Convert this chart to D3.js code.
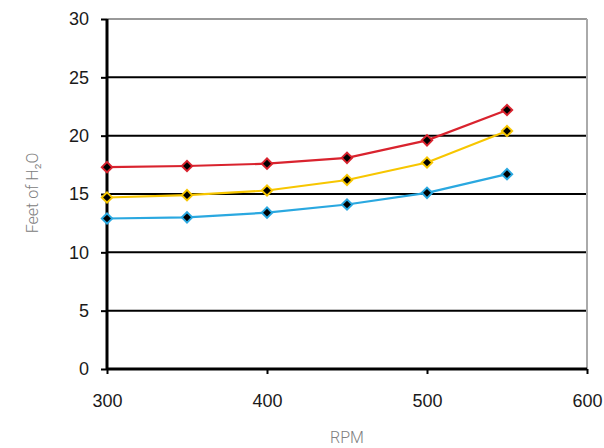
<!DOCTYPE html>
<html><head><meta charset="utf-8">
<script src="https://cdn.jsdelivr.net/npm/d3@7"></script>
<style>body{margin:0;background:#fff;}svg{display:block;font-family:"Liberation Sans",Arial,sans-serif;}</style>
</head><body><svg id="c" width="604" height="448"></svg>
<script>
const rpm = [300, 350, 400, 450, 500, 550];
const redSeries = [17.3, 17.4, 17.6, 18.1, 19.6, 22.2];
const yellowSeries = [14.7, 14.9, 15.3, 16.2, 17.7, 20.4];
const blueSeries = [12.9, 13.0, 13.4, 14.1, 15.1, 16.7];
const xTicks = [300, 400, 500, 600];
const yTicks = [0, 5, 10, 15, 20, 25, 30];

const series = [
  {values: redSeries, color: "#d9232e"},
  {values: yellowSeries, color: "#f7c600"},
  {values: blueSeries, color: "#2aa8e0"}
];

const svg = d3.select("#c");
const L = 107, R = 587, T = 19, B = 369;
const x = d3.scaleLinear().domain([300, 600]).range([L, R]);
const y = d3.scaleLinear().domain([0, 30]).range([B, T]);

svg.append("g").selectAll("line").data(yTicks.filter(d => d > 0 && d < 30)).join("line")
  .attr("x1", L).attr("x2", R).attr("y1", d => y(d)).attr("y2", d => y(d))
  .attr("stroke", "#000").attr("stroke-width", 2);
svg.append("line").attr("x1", L).attr("x2", R).attr("y1", y(30)).attr("y2", y(30)).attr("stroke", "#999").attr("stroke-width", 2);
svg.append("line").attr("x1", R).attr("x2", R).attr("y1", T).attr("y2", B).attr("stroke", "#aaa").attr("stroke-width", 2);

const yAxis = svg.append("g").attr("transform", `translate(${L},0)`)
  .call(d3.axisLeft(y).tickValues(yTicks).tickSize(6).tickPadding(12));
const xAxis = svg.append("g").attr("transform", `translate(0,${B})`)
  .call(d3.axisBottom(x).tickValues(xTicks).tickSize(5).tickPadding(20));
[yAxis, xAxis].forEach(a => {
  a.select(".domain").attr("stroke", "#000").attr("stroke-width", 3);
  a.selectAll(".tick line").attr("stroke", "#000").attr("stroke-width", 2);
  a.selectAll(".tick text").attr("fill", "#1a1a1a").style("font-size", "18px").style("font-family", "'Liberation Sans', Arial, sans-serif");
});
yAxis.select(".domain").attr("d", `M0,${T}V${B}`);
xAxis.select(".domain").attr("d", `M${L},0H${R}`);

const line = d3.line().x((d, i) => x(rpm[i])).y(d => y(d));
const diamond = d3.symbol().type(d3.symbolDiamond2);
series.forEach(s => {
  svg.append("path").datum(s.values).attr("d", line)
    .attr("fill", "none").attr("stroke", s.color).attr("stroke-width", 2.2);
  const g = svg.append("g").selectAll("g").data(s.values).join("g")
    .attr("transform", (d, i) => `translate(${x(rpm[i])},${y(d)})`);
  g.append("path").attr("d", diamond.size(110)()).attr("fill", s.color);
  g.append("path").attr("d", diamond.size(38)()).attr("fill", "#000");
});

svg.append("text").attr("transform", `translate(38,${y(15) - 1}) rotate(-90)`)
  .attr("text-anchor", "middle").attr("fill", "#808080")
  .style("font-size", "16px").style("font-family", "Roboto, sans-serif").style("font-weight", "300")
  .text("Feet of H₂O");
svg.append("text").attr("x", x(450)).attr("y", 443).attr("text-anchor", "middle")
  .attr("fill", "#808080").style("font-size", "16px").style("font-family", "Roboto, sans-serif").style("font-weight", "300")
  .text("RPM");
</script></body></html>
